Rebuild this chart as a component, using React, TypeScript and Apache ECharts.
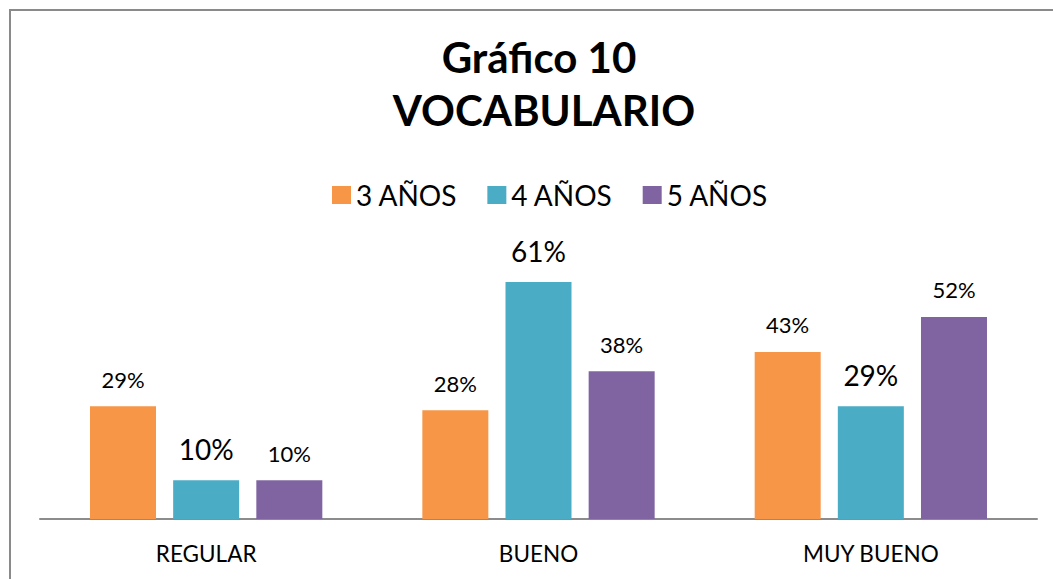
import React, { useEffect, useRef } from "react";
import * as echarts from "echarts";

const categories = ["REGULAR", "BUENO", "MUY BUENO"];
const seriesNames = ["3 AÑOS", "4 AÑOS", "5 AÑOS"];
const values3 = [29, 28, 43];
const values4 = [10, 61, 29];
const values5 = [10, 38, 52];
const colors = ["#F79646", "#4BACC6", "#8064A2"];
const labelSizes = [22, 28, 22];
const titleLines = ["Gráfico 10", "VOCABULARIO"];

const FONT = "Lato, 'Noto Sans', sans-serif";

export default function App() {
  const ref = useRef<HTMLDivElement>(null);
  useEffect(() => {
    if (!ref.current) return;
    const chart = echarts.init(ref.current, undefined, { renderer: "svg" });
    const data = [values3, values4, values5];
    chart.setOption({
      animation: false,
      backgroundColor: "#ffffff",
      textStyle: { fontFamily: FONT },
      legend: {
        top: 176,
        left: 327,
        itemWidth: 19,
        itemHeight: 18,
        itemGap: 30,
        icon: "rect",
        textStyle: { fontFamily: FONT, fontSize: 28, color: "#000" },
        data: seriesNames,
      },
      grid: { left: 40, right: 16, top: 247, bottom: 60 },
      xAxis: {
        type: "category",
        data: categories,
        axisLine: { lineStyle: { color: "#8c8c8c", width: 2 } },
        axisTick: { show: false },
        axisLabel: { fontFamily: FONT, fontSize: 22.5, color: "#000", margin: 23 },
      },
      yAxis: {
        type: "value",
        min: 0,
        max: 70,
        show: false,
        splitLine: { show: false },
      },
      graphic: [
        {
          type: "rect",
          shape: { x: 10, y: 10, width: 1100, height: 600 },
          style: { fill: "none", stroke: "#8a8a8a", lineWidth: 2 },
          silent: true,
        },
        {
          type: "text",
          x: 539,
          y: 57,
          style: {
            text: titleLines[0],
            textAlign: "center",
            textVerticalAlign: "middle",
            fontFamily: FONT,
            fontWeight: "bold",
            fontSize: 42,
            fill: "#000",
          },
        },
        {
          type: "text",
          x: 544,
          y: 110,
          style: {
            text: titleLines[1],
            textAlign: "center",
            textVerticalAlign: "middle",
            fontFamily: FONT,
            fontWeight: "bold",
            fontSize: 42,
            fill: "#000",
          },
        },
      ],
      series: seriesNames.map((name, i) => ({
        name,
        type: "bar",
        data: data[i],
        barWidth: 66,
        barGap: "26%",
        itemStyle: { color: colors[i] },
        label: {
          show: true,
          position: "top",
          distance: i === 1 ? 17 : 16,
          formatter: "{c}%",
          fontFamily: FONT,
          fontSize: labelSizes[i],
          color: "#000",
        },
      })),
    });
    return () => chart.dispose();
  }, []);
  return (
    <div
      ref={ref}
      style={{ position: "fixed", left: 0, top: 0, width: 1053, height: 579 }}
    />
  );
}
